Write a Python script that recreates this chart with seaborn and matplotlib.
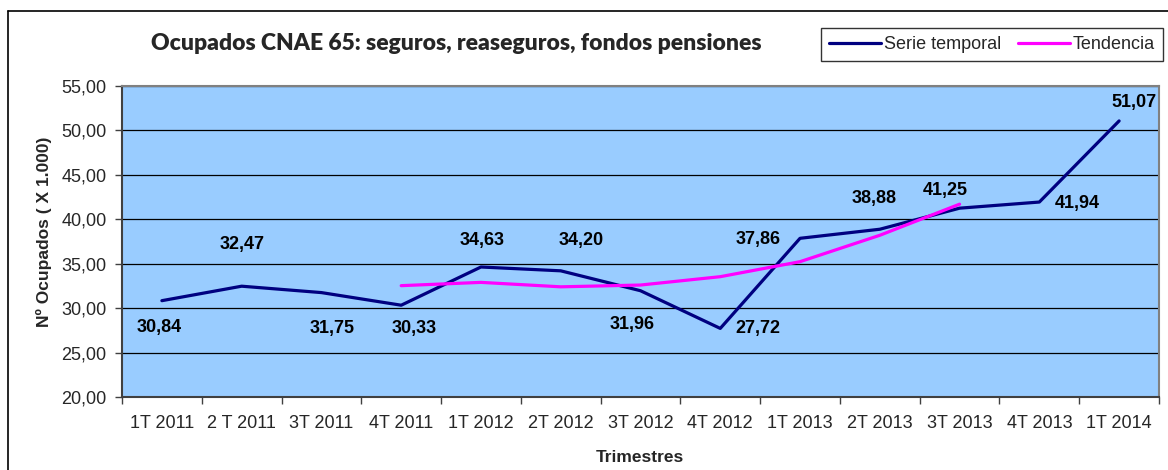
import matplotlib
matplotlib.use("Agg")
import matplotlib.pyplot as plt
from matplotlib.lines import Line2D
from matplotlib.ticker import FixedLocator, FuncFormatter
import numpy as np
import pandas as pd
import seaborn as sns

# data
trimestres = ["1T 2011", "2 T 2011", "3T 2011", "4T 2011", "1T 2012", "2T 2012",
              "3T 2012", "4T 2012", "1T 2013", "2T 2013", "3T 2013", "4T 2013", "1T 2014"]
serie = [30.84, 32.47, 31.75, 30.33, 34.63, 34.20, 31.96, 27.72, 37.86, 38.88, 41.25, 41.94, 51.07]
tendencia = [np.nan, np.nan, np.nan, 32.53, 32.9, 32.4, 32.6, 33.54, 35.23, 38.2, 41.7, np.nan, np.nan]

# where each value label sits relative to its point (points)
label_offsets = [(-2, -19), (0, 30), (8, -26), (9, -17), (1, 19), (15, 22), (-6, -24),
                 (27, 0), (-30, -1), (-4, 22), (-10, 13), (27, -1), (11, 13)]

df = pd.DataFrame({"pos": range(len(trimestres)), "trimestre": trimestres,
                   "serie": serie, "tendencia": tendencia})

sns.set_style("white")
plt.rcParams["font.family"] = ["Liberation Sans", "DejaVu Sans"]

W, H = 1168, 470
fig = plt.figure(figsize=(W / 100, H / 100), dpi=100)
ax = fig.add_axes([122 / W, 1 - 397 / H, (1159 - 122) / W, (397 - 86) / H])
ax.set_facecolor("#99CCFF")

sns.lineplot(data=df, x="pos", y="serie", ax=ax, color="#000080", linewidth=2.3)
sns.lineplot(data=df.dropna(), x="pos", y="tendencia", ax=ax, color="#FF00FF", linewidth=2.3)

for i, (v, off) in enumerate(zip(serie, label_offsets)):
    ax.annotate(f"{v:.2f}".replace(".", ","), (i, v), xytext=off, textcoords="offset points",
                ha="center", va="center", fontsize=13, fontweight="bold", color="black")

ax.set_xlim(-0.5, len(trimestres) - 0.5)
ax.set_ylim(20, 55)
ax.set_yticks(np.arange(20, 55.1, 5))
ax.yaxis.set_major_formatter(FuncFormatter(lambda v, p: f"{v:.2f}".replace(".", ",")))
ax.grid(axis="y", color="black", linewidth=0.9)
ax.grid(axis="x", visible=False)

# tick marks between categories, labels centred on them
ax.xaxis.set_major_locator(FixedLocator(np.arange(-0.5, len(trimestres), 1)))
ax.xaxis.set_major_formatter(FuncFormatter(lambda v, p: ""))
ax.set_xticks(np.arange(len(trimestres)), labels=trimestres, minor=True)
ax.tick_params(axis="x", which="major", direction="out", length=5, width=1, color="#404040")
ax.tick_params(axis="x", which="minor", length=0, pad=13, labelsize=13)
ax.tick_params(axis="y", direction="out", length=5, width=1, color="#404040", pad=6, labelsize=13)
ax.tick_params(left=True, bottom=True)

for side, sp in ax.spines.items():
    sp.set_visible(True)
    sp.set_color("#808080")
    sp.set_linewidth(1.5)
ax.spines["bottom"].set_color("#404040")
ax.spines["left"].set_color("#404040")

ax.set_xlabel("")
ax.set_ylabel("")
fig.text(640 / W, 1 - 458 / H, "Trimestres", ha="center", va="center",
         fontsize=12.5, fontweight="bold")
fig.text(44 / W, 1 - 232 / H, "Nº Ocupados ( X 1.000)", ha="center", va="center",
         rotation=90, fontsize=12.5, fontweight="bold")

fig.text(456 / W, 1 - 44 / H, "Ocupados CNAE 65: seguros, reaseguros, fondos pensiones",
         ha="center", va="center", fontsize=16.5, fontweight="heavy",
         family=["Lato", "DejaVu Sans"])

handles = [Line2D([], [], color="#000080", linewidth=2.3),
           Line2D([], [], color="#FF00FF", linewidth=2.3)]
leg = fig.legend(handles, ["Serie temporal", "Tendencia"], loc="upper right",
                 bbox_to_anchor=(1163 / W, 1 - 28 / H), ncol=2, frameon=True, fancybox=False,
                 edgecolor="black", fontsize=13, handlelength=2.9, handletextpad=0.15,
                 columnspacing=0.9, borderpad=0.45, borderaxespad=0)
leg.get_frame().set_linewidth(1)

# outer chart border (left and top visible in the crop)
fig.add_artist(Line2D([7.5 / W, 7.5 / W], [0, 1 - 11 / H], color="black", linewidth=1.2,
                      transform=fig.transFigure))
fig.add_artist(Line2D([7.5 / W, 1], [1 - 11 / H, 1 - 11 / H], color="black", linewidth=1.2,
                      transform=fig.transFigure))

fig.savefig("out.png", dpi=100)
